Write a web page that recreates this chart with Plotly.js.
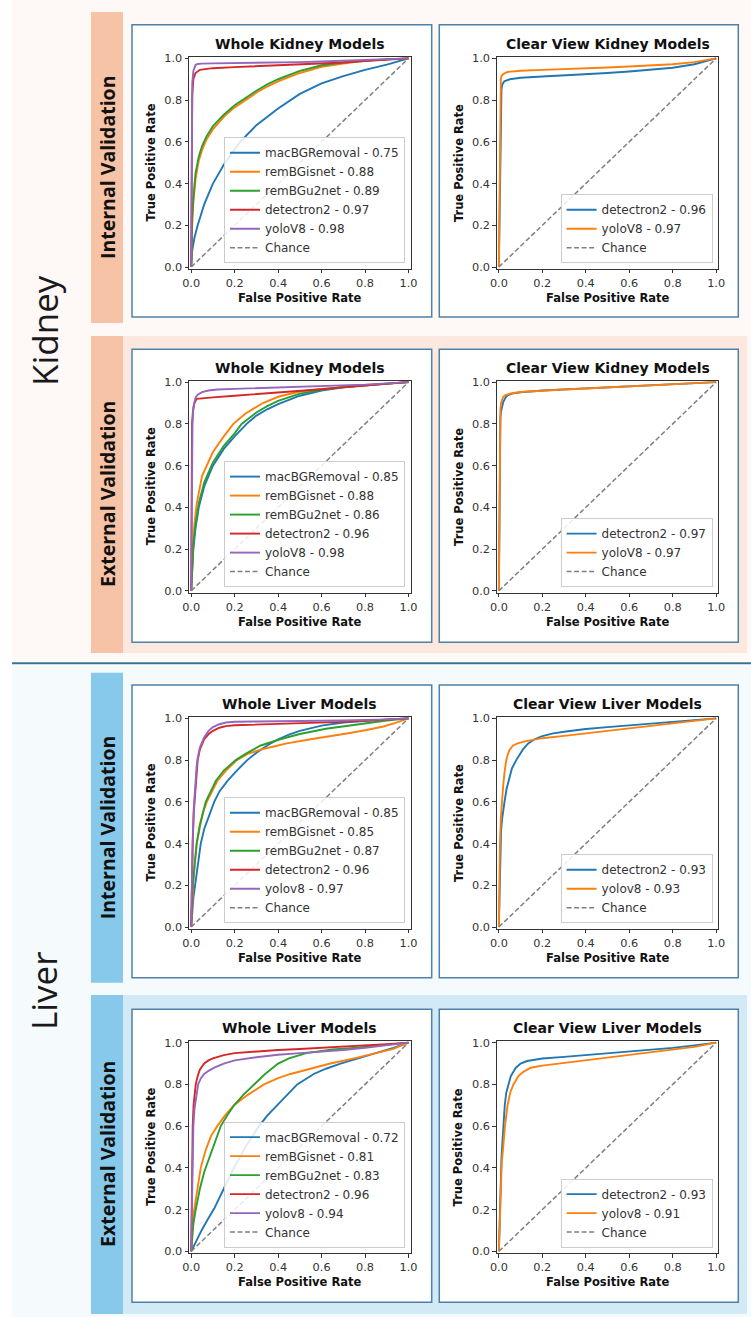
<!DOCTYPE html>
<html><head><meta charset="utf-8">
<script src="https://cdn.plot.ly/plotly-3.0.1.min.js"></script>
<style>html,body{margin:0;padding:0;background:#fff}#chart{width:751px;height:1317px}</style>
</head><body><div id="chart"></div>
<script>
// ---------- tick labels / text ----------
const TICKS = [0, 0.2, 0.4, 0.6, 0.8, 1.0];
const TICK_TEXT = ['0.0', '0.2', '0.4', '0.6', '0.8', '1.0'];
const SECTION_LABELS = ['Kidney', 'Liver'];
const ROW_LABELS = ['Internal Validation', 'External Validation', 'Internal Validation', 'External Validation'];
const PANEL_TITLES = ['Whole Kidney Models', 'Clear View Kidney Models', 'Whole Kidney Models', 'Clear View Kidney Models',
  'Whole Liver Models', 'Clear View Liver Models', 'Whole Liver Models', 'Clear View Liver Models'];
const X_LABEL = 'False Positive Rate';
const Y_LABEL = 'True Positive Rate';

const WK_INT_LABELS = ['macBGRemoval - 0.75', 'remBGisnet - 0.88', 'remBGu2net - 0.89', 'detectron2 - 0.97', 'yoloV8 - 0.98'];
const CK_INT_LABELS = ['detectron2 - 0.96', 'yoloV8 - 0.97'];
const WK_EXT_LABELS = ['macBGRemoval - 0.85', 'remBGisnet - 0.88', 'remBGu2net - 0.86', 'detectron2 - 0.96', 'yoloV8 - 0.98'];
const CK_EXT_LABELS = ['detectron2 - 0.97', 'yoloV8 - 0.97'];
const WL_INT_LABELS = ['macBGRemoval - 0.85', 'remBGisnet - 0.85', 'remBGu2net - 0.87', 'detectron2 - 0.96', 'yolov8 - 0.97'];
const CL_INT_LABELS = ['detectron2 - 0.93', 'yolov8 - 0.93'];
const WL_EXT_LABELS = ['macBGRemoval - 0.72', 'remBGisnet - 0.81', 'remBGu2net - 0.83', 'detectron2 - 0.96', 'yolov8 - 0.94'];
const CL_EXT_LABELS = ['detectron2 - 0.93', 'yolov8 - 0.91'];
const CHANCE_LABEL = 'Chance';

// ---------- data (FPR / TPR) ----------
const CHANCE_X = [0, 1];
const CHANCE_Y = [0, 1];

// Whole Kidney - Internal
const WK_INT_MAC_FPR = [0, 0.005, 0.015, 0.03, 0.06, 0.1, 0.15, 0.225, 0.3, 0.4, 0.5, 0.6, 0.7, 0.8, 0.9, 1.0];
const WK_INT_MAC_TPR = [0, 0.08, 0.14, 0.2, 0.3, 0.4, 0.49, 0.6, 0.68, 0.76, 0.83, 0.88, 0.915, 0.945, 0.97, 1.0];
const WK_INT_ISN_FPR = [0, 0.002, 0.005, 0.01, 0.02, 0.035, 0.05, 0.07, 0.1, 0.15, 0.2, 0.25, 0.3, 0.35, 0.4, 0.5, 0.6, 0.7, 0.8, 0.9, 1.0];
const WK_INT_ISN_TPR = [0, 0.12, 0.22, 0.31, 0.42, 0.51, 0.56, 0.61, 0.66, 0.72, 0.765, 0.8, 0.835, 0.865, 0.89, 0.93, 0.96, 0.975, 0.988, 0.995, 1.0];
const WK_INT_U2N_FPR = [0, 0.002, 0.005, 0.01, 0.02, 0.035, 0.05, 0.07, 0.1, 0.15, 0.2, 0.25, 0.3, 0.35, 0.4, 0.5, 0.6, 0.7, 0.8, 0.9, 1.0];
const WK_INT_U2N_TPR = [0, 0.14, 0.24, 0.33, 0.45, 0.53, 0.58, 0.625, 0.675, 0.73, 0.775, 0.81, 0.845, 0.875, 0.9, 0.94, 0.967, 0.98, 0.99, 0.995, 1.0];
const WK_INT_DET_FPR = [0, 0.002, 0.005, 0.01, 0.02, 0.04, 0.07, 0.1, 0.2, 0.3, 0.4, 0.5, 0.6, 0.7, 0.8, 0.9, 1.0];
const WK_INT_DET_TPR = [0, 0.5, 0.82, 0.9, 0.93, 0.945, 0.95, 0.953, 0.958, 0.962, 0.966, 0.97, 0.975, 0.98, 0.987, 0.993, 1.0];
const WK_INT_YOL_FPR = [0, 0.002, 0.005, 0.01, 0.015, 0.02, 0.03, 0.05, 0.1, 0.2, 0.3, 0.4, 0.5, 0.6, 0.7, 0.8, 0.9, 1.0];
const WK_INT_YOL_TPR = [0, 0.6, 0.88, 0.94, 0.96, 0.968, 0.973, 0.975, 0.976, 0.977, 0.978, 0.98, 0.982, 0.985, 0.988, 0.991, 0.995, 1.0];

// Clear View Kidney - Internal
const CK_INT_DET_FPR = [0, 0.004, 0.008, 0.012, 0.016, 0.025, 0.05, 0.1, 0.2, 0.3, 0.4, 0.5, 0.6, 0.7, 0.8, 0.9, 1.0];
const CK_INT_DET_TPR = [0, 0.35, 0.72, 0.85, 0.875, 0.89, 0.9, 0.907, 0.913, 0.918, 0.924, 0.93, 0.937, 0.945, 0.955, 0.972, 1.0];
const CK_INT_YOL_FPR = [0, 0.003, 0.006, 0.009, 0.012, 0.02, 0.04, 0.1, 0.2, 0.3, 0.4, 0.5, 0.6, 0.7, 0.8, 0.9, 1.0];
const CK_INT_YOL_TPR = [0, 0.35, 0.75, 0.9, 0.915, 0.925, 0.935, 0.941, 0.945, 0.948, 0.952, 0.956, 0.961, 0.966, 0.972, 0.982, 1.0];

// Whole Kidney - External
const WK_EXT_MAC_FPR = [0, 0.005, 0.01, 0.02, 0.035, 0.06, 0.1, 0.15, 0.2, 0.255, 0.3, 0.35, 0.4, 0.5, 0.6, 0.7, 0.8, 0.9, 1.0];
const WK_EXT_MAC_TPR = [0, 0.12, 0.2, 0.3, 0.4, 0.5, 0.6, 0.68, 0.74, 0.8, 0.84, 0.87, 0.895, 0.935, 0.96, 0.975, 0.985, 0.993, 1.0];
const WK_EXT_ISN_FPR = [0, 0.003, 0.008, 0.015, 0.026, 0.05, 0.08, 0.1, 0.15, 0.194, 0.25, 0.33, 0.4, 0.5, 0.6, 0.7, 0.8, 0.9, 1.0];
const WK_EXT_ISN_TPR = [0, 0.14, 0.22, 0.32, 0.42, 0.55, 0.62, 0.665, 0.74, 0.8, 0.85, 0.9, 0.93, 0.955, 0.968, 0.978, 0.986, 0.993, 1.0];
const WK_EXT_U2N_FPR = [0, 0.005, 0.01, 0.02, 0.035, 0.06, 0.1, 0.15, 0.2, 0.232, 0.3, 0.35, 0.4, 0.5, 0.6, 0.7, 0.8, 0.9, 1.0];
const WK_EXT_U2N_TPR = [0, 0.14, 0.22, 0.32, 0.42, 0.52, 0.615, 0.695, 0.755, 0.8, 0.855, 0.885, 0.91, 0.945, 0.963, 0.977, 0.986, 0.993, 1.0];
const WK_EXT_DET_FPR = [0, 0.002, 0.004, 0.008, 0.015, 0.025, 0.05, 0.1, 0.2, 0.3, 0.4, 0.5, 0.6, 0.7, 0.8, 0.9, 1.0];
const WK_EXT_DET_TPR = [0, 0.5, 0.8, 0.86, 0.9, 0.92, 0.923, 0.927, 0.935, 0.942, 0.95, 0.958, 0.966, 0.975, 0.983, 0.991, 1.0];
const WK_EXT_YOL_FPR = [0, 0.003, 0.006, 0.01, 0.015, 0.02, 0.03, 0.05, 0.08, 0.12, 0.2, 0.3, 0.4, 0.5, 0.6, 0.7, 0.8, 0.9, 1.0];
const WK_EXT_YOL_TPR = [0, 0.5, 0.8, 0.88, 0.91, 0.925, 0.94, 0.952, 0.96, 0.965, 0.968, 0.971, 0.974, 0.977, 0.98, 0.984, 0.988, 0.994, 1.0];

// Clear View Kidney - External
const CK_EXT_DET_FPR = [0, 0.002, 0.004, 0.007, 0.01, 0.015, 0.02, 0.03, 0.04, 0.06, 0.1, 0.2, 0.3, 0.4, 0.5, 0.6, 0.7, 0.8, 0.9, 1.0];
const CK_EXT_DET_TPR = [0, 0.4, 0.75, 0.83, 0.86, 0.89, 0.905, 0.925, 0.937, 0.945, 0.952, 0.96, 0.965, 0.97, 0.975, 0.98, 0.985, 0.99, 0.995, 1.0];
const CK_EXT_YOL_FPR = [0, 0.002, 0.004, 0.007, 0.01, 0.015, 0.02, 0.03, 0.04, 0.06, 0.1, 0.2, 0.3, 0.4, 0.5, 0.6, 0.7, 0.8, 0.9, 1.0];
const CK_EXT_YOL_TPR = [0, 0.45, 0.8, 0.87, 0.9, 0.92, 0.93, 0.938, 0.942, 0.947, 0.953, 0.96, 0.965, 0.97, 0.975, 0.98, 0.985, 0.99, 0.995, 1.0];

// Whole Liver - Internal
const WL_INT_MAC_FPR = [0, 0.005, 0.01, 0.018, 0.03, 0.044, 0.06, 0.08, 0.106, 0.13, 0.167, 0.21, 0.258, 0.3, 0.35, 0.4, 0.45, 0.5, 0.6, 0.7, 0.8, 0.9, 1.0];
const WL_INT_MAC_TPR = [0, 0.08, 0.14, 0.2, 0.3, 0.4, 0.47, 0.53, 0.6, 0.65, 0.7, 0.75, 0.8, 0.835, 0.87, 0.9, 0.922, 0.94, 0.965, 0.98, 0.988, 0.995, 1.0];
const WL_INT_ISN_FPR = [0, 0.003, 0.006, 0.01, 0.018, 0.026, 0.04, 0.055, 0.072, 0.095, 0.12, 0.16, 0.21, 0.26, 0.32, 0.38, 0.44, 0.55, 0.65, 0.73, 0.8, 0.88, 0.94, 1.0];
const WL_INT_ISN_TPR = [0, 0.1, 0.17, 0.22, 0.32, 0.4, 0.48, 0.55, 0.6, 0.65, 0.7, 0.75, 0.8, 0.83, 0.85, 0.865, 0.88, 0.9, 0.915, 0.93, 0.943, 0.96, 0.978, 1.0];
const WL_INT_U2N_FPR = [0, 0.003, 0.006, 0.01, 0.018, 0.025, 0.04, 0.055, 0.067, 0.09, 0.113, 0.15, 0.205, 0.25, 0.32, 0.41, 0.5, 0.62, 0.72, 0.82, 0.9, 1.0];
const WL_INT_U2N_TPR = [0, 0.11, 0.18, 0.23, 0.33, 0.4, 0.49, 0.56, 0.6, 0.65, 0.7, 0.75, 0.8, 0.83, 0.87, 0.9, 0.925, 0.95, 0.965, 0.98, 0.99, 1.0];
const WL_INT_DET_FPR = [0, 0.003, 0.007, 0.012, 0.018, 0.025, 0.03, 0.04, 0.06, 0.08, 0.1, 0.13, 0.16, 0.2, 0.3, 0.4, 0.5, 0.6, 0.7, 0.8, 0.9, 1.0];
const WL_INT_DET_TPR = [0, 0.25, 0.4, 0.55, 0.65, 0.75, 0.8, 0.85, 0.9, 0.925, 0.94, 0.955, 0.963, 0.967, 0.97, 0.972, 0.975, 0.978, 0.983, 0.988, 0.994, 1.0];
const WL_INT_YOL_FPR = [0, 0.003, 0.007, 0.012, 0.018, 0.025, 0.03, 0.04, 0.06, 0.08, 0.1, 0.13, 0.16, 0.2, 0.3, 0.5, 0.7, 0.9, 1.0];
const WL_INT_YOL_TPR = [0, 0.25, 0.42, 0.57, 0.67, 0.77, 0.81, 0.86, 0.91, 0.94, 0.958, 0.972, 0.98, 0.984, 0.985, 0.987, 0.99, 0.995, 1.0];

// Clear View Liver - Internal
const CL_INT_DET_FPR = [0, 0.003, 0.006, 0.01, 0.015, 0.02, 0.026, 0.035, 0.044, 0.06, 0.08, 0.11, 0.135, 0.164, 0.2, 0.25, 0.3, 0.4, 0.5, 0.6, 0.7, 0.8, 0.9, 1.0];
const CL_INT_DET_TPR = [0, 0.2, 0.35, 0.46, 0.52, 0.57, 0.6, 0.66, 0.7, 0.76, 0.8, 0.85, 0.88, 0.9, 0.915, 0.928, 0.936, 0.949, 0.958, 0.966, 0.974, 0.982, 0.991, 1.0];
const CL_INT_YOL_FPR = [0, 0.002, 0.005, 0.009, 0.014, 0.02, 0.027, 0.034, 0.042, 0.05, 0.065, 0.087, 0.12, 0.15, 0.2, 0.3, 0.4, 0.5, 0.6, 0.7, 0.8, 0.9, 1.0];
const CL_INT_YOL_TPR = [0, 0.2, 0.4, 0.52, 0.6, 0.68, 0.75, 0.8, 0.83, 0.85, 0.87, 0.88, 0.89, 0.897, 0.905, 0.916, 0.928, 0.941, 0.955, 0.965, 0.976, 0.988, 1.0];

// Whole Liver - External
const WL_EXT_MAC_FPR = [0, 0.02, 0.05, 0.08, 0.106, 0.15, 0.197, 0.25, 0.312, 0.35, 0.396, 0.44, 0.488, 0.564, 0.62, 0.687, 0.77, 0.855, 0.93, 1.0];
const WL_EXT_MAC_TPR = [0, 0.045, 0.105, 0.16, 0.205, 0.3, 0.4, 0.5, 0.6, 0.65, 0.7, 0.75, 0.8, 0.85, 0.875, 0.9, 0.925, 0.95, 0.975, 1.0];
const WL_EXT_ISN_FPR = [0, 0.003, 0.007, 0.014, 0.028, 0.044, 0.065, 0.09, 0.12, 0.155, 0.197, 0.26, 0.335, 0.4, 0.457, 0.55, 0.64, 0.75, 0.855, 0.93, 1.0];
const WL_EXT_ISN_TPR = [0, 0.08, 0.14, 0.2, 0.3, 0.4, 0.48, 0.55, 0.6, 0.65, 0.7, 0.75, 0.8, 0.83, 0.85, 0.875, 0.9, 0.925, 0.95, 0.97, 1.0];
const WL_EXT_U2N_FPR = [0, 0.005, 0.01, 0.021, 0.04, 0.06, 0.08, 0.1, 0.136, 0.165, 0.197, 0.24, 0.29, 0.34, 0.4, 0.45, 0.53, 0.6, 0.65, 0.75, 0.85, 0.93, 1.0];
const WL_EXT_U2N_TPR = [0, 0.08, 0.13, 0.2, 0.3, 0.38, 0.44, 0.5, 0.6, 0.65, 0.7, 0.75, 0.8, 0.85, 0.9, 0.925, 0.95, 0.96, 0.967, 0.975, 0.985, 0.993, 1.0];
const WL_EXT_DET_FPR = [0, 0.002, 0.004, 0.007, 0.011, 0.016, 0.021, 0.03, 0.04, 0.06, 0.08, 0.1, 0.15, 0.2, 0.3, 0.4, 0.5, 0.6, 0.7, 0.8, 0.9, 1.0];
const WL_EXT_DET_TPR = [0, 0.3, 0.5, 0.6, 0.7, 0.76, 0.8, 0.84, 0.87, 0.9, 0.915, 0.925, 0.94, 0.95, 0.958, 0.965, 0.97, 0.975, 0.98, 0.986, 0.993, 1.0];
const WL_EXT_YOL_FPR = [0, 0.003, 0.006, 0.01, 0.015, 0.022, 0.032, 0.045, 0.06, 0.08, 0.106, 0.15, 0.2, 0.3, 0.4, 0.5, 0.6, 0.7, 0.8, 0.9, 1.0];
const WL_EXT_YOL_TPR = [0, 0.25, 0.45, 0.6, 0.68, 0.74, 0.8, 0.83, 0.85, 0.865, 0.88, 0.9, 0.915, 0.93, 0.942, 0.95, 0.957, 0.965, 0.975, 0.987, 1.0];

// Clear View Liver - External
const CL_EXT_DET_FPR = [0, 0.004, 0.008, 0.012, 0.015, 0.02, 0.027, 0.034, 0.043, 0.055, 0.078, 0.1, 0.13, 0.2, 0.3, 0.4, 0.5, 0.6, 0.7, 0.8, 0.9, 1.0];
const CL_EXT_DET_TPR = [0, 0.2, 0.35, 0.45, 0.5, 0.6, 0.7, 0.76, 0.8, 0.84, 0.88, 0.9, 0.912, 0.924, 0.932, 0.94, 0.948, 0.956, 0.965, 0.975, 0.987, 1.0];
const CL_EXT_YOL_FPR = [0, 0.004, 0.008, 0.013, 0.02, 0.028, 0.04, 0.052, 0.067, 0.09, 0.113, 0.147, 0.2, 0.3, 0.4, 0.5, 0.6, 0.7, 0.8, 0.9, 1.0];
const CL_EXT_YOL_TPR = [0, 0.15, 0.3, 0.42, 0.5, 0.6, 0.7, 0.76, 0.8, 0.84, 0.86, 0.88, 0.89, 0.903, 0.915, 0.927, 0.94, 0.952, 0.965, 0.98, 1.0];

// ---------- styling ----------
const COL = {blue: '#1f77b4', orange: '#ff7f0e', green: '#2ca02c', red: '#d62728', purple: '#9467bd', chance: '#808080'};
const W = 751, H = 1317;
const fx = v => v / W;
const fy = v => 1 - v / H;
const PLOT_X = [[189, 410.7], [496.7, 718.3]];
const PLOT_Y = [[56.7, 268.7], [380.5, 592.5], [716.7, 928.7], [1041, 1253]];
const BOX_X = [[132, 431.7], [439.3, 738.3]];
const BOX_Y = [[24.7, 317], [349.3, 642.3], [685, 977.7], [1009.3, 1302.3]];
const BAR_Y = [[12, 323], [336, 653], [672.7, 982.7], [995, 1314]];
const MPL_FONT = 'DejaVu Sans, Liberation Sans, sans-serif';
const INK = '#333333';

function whole(labels, a) {
  return [
    {name: labels[0], x: a[0], y: a[1], color: COL.blue},
    {name: labels[1], x: a[2], y: a[3], color: COL.orange},
    {name: labels[2], x: a[4], y: a[5], color: COL.green},
    {name: labels[3], x: a[6], y: a[7], color: COL.red},
    {name: labels[4], x: a[8], y: a[9], color: COL.purple}
  ];
}
function clear(labels, a) {
  return [
    {name: labels[0], x: a[0], y: a[1], color: COL.blue},
    {name: labels[1], x: a[2], y: a[3], color: COL.orange}
  ];
}
const PANELS = [
  whole(WK_INT_LABELS, [WK_INT_MAC_FPR, WK_INT_MAC_TPR, WK_INT_ISN_FPR, WK_INT_ISN_TPR, WK_INT_U2N_FPR, WK_INT_U2N_TPR, WK_INT_DET_FPR, WK_INT_DET_TPR, WK_INT_YOL_FPR, WK_INT_YOL_TPR]),
  clear(CK_INT_LABELS, [CK_INT_DET_FPR, CK_INT_DET_TPR, CK_INT_YOL_FPR, CK_INT_YOL_TPR]),
  whole(WK_EXT_LABELS, [WK_EXT_MAC_FPR, WK_EXT_MAC_TPR, WK_EXT_ISN_FPR, WK_EXT_ISN_TPR, WK_EXT_U2N_FPR, WK_EXT_U2N_TPR, WK_EXT_DET_FPR, WK_EXT_DET_TPR, WK_EXT_YOL_FPR, WK_EXT_YOL_TPR]),
  clear(CK_EXT_LABELS, [CK_EXT_DET_FPR, CK_EXT_DET_TPR, CK_EXT_YOL_FPR, CK_EXT_YOL_TPR]),
  whole(WL_INT_LABELS, [WL_INT_MAC_FPR, WL_INT_MAC_TPR, WL_INT_ISN_FPR, WL_INT_ISN_TPR, WL_INT_U2N_FPR, WL_INT_U2N_TPR, WL_INT_DET_FPR, WL_INT_DET_TPR, WL_INT_YOL_FPR, WL_INT_YOL_TPR]),
  clear(CL_INT_LABELS, [CL_INT_DET_FPR, CL_INT_DET_TPR, CL_INT_YOL_FPR, CL_INT_YOL_TPR]),
  whole(WL_EXT_LABELS, [WL_EXT_MAC_FPR, WL_EXT_MAC_TPR, WL_EXT_ISN_FPR, WL_EXT_ISN_TPR, WL_EXT_U2N_FPR, WL_EXT_U2N_TPR, WL_EXT_DET_FPR, WL_EXT_DET_TPR, WL_EXT_YOL_FPR, WL_EXT_YOL_TPR]),
  clear(CL_EXT_LABELS, [CL_EXT_DET_FPR, CL_EXT_DET_TPR, CL_EXT_YOL_FPR, CL_EXT_YOL_TPR])
];

const traces = [];
const layout = {
  width: W, height: H, margin: {l: 0, r: 0, t: 0, b: 0},
  paper_bgcolor: '#ffffff', plot_bgcolor: 'rgba(0,0,0,0)',
  showlegend: true, hovermode: false,
  font: {family: MPL_FONT, color: INK},
  shapes: [], annotations: []
};

function rect(x0, y0, x1, y1, fill, line) {
  layout.shapes.push({type: 'rect', xref: 'paper', yref: 'paper', layer: 'below',
    x0: fx(x0), x1: fx(x1), y0: fy(y1), y1: fy(y0), fillcolor: fill,
    line: line || {width: 0}});
}
// section backgrounds
rect(12, 0, 751, 661.5, '#fef8f6');
rect(12, 665, 751, 1317, '#f5fafd');
layout.shapes.push({type: 'line', xref: 'paper', yref: 'paper', layer: 'below',
  x0: fx(12), x1: fx(751), y0: fy(663.3), y1: fy(663.3), line: {color: '#3d7191', width: 2}});
// bands
rect(123, BAR_Y[1][0], 747, BAR_Y[1][1], '#fce8de');
rect(123, BAR_Y[3][0], 747, BAR_Y[3][1], '#d2eaf6');
// side bars
for (let r = 0; r < 4; r++) {
  rect(91, BAR_Y[r][0], 123, BAR_Y[r][1], r < 2 ? '#f6c3a6' : '#86c9ea');
  layout.annotations.push({xref: 'paper', yref: 'paper', x: fx(107.5), y: fy((BAR_Y[r][0] + BAR_Y[r][1]) / 2),
    text: '<b>' + ROW_LABELS[r] + '</b>', showarrow: false, textangle: -90,
    xanchor: 'center', yanchor: 'middle', font: {family: 'Open Sans, Liberation Sans, sans-serif', size: 19.5, color: '#111'}});
}
// section labels
layout.annotations.push({xref: 'paper', yref: 'paper', x: fx(44), y: fy(331), text: SECTION_LABELS[0], showarrow: false,
  textangle: -90, xanchor: 'center', yanchor: 'middle', font: {family: 'Open Sans, Noto Sans, sans-serif', size: 35, color: '#1a1a1a'}});
layout.annotations.push({xref: 'paper', yref: 'paper', x: fx(44), y: fy(991), text: SECTION_LABELS[1], showarrow: false,
  textangle: -90, xanchor: 'center', yanchor: 'middle', font: {family: 'Open Sans, Noto Sans, sans-serif', size: 35, color: '#1a1a1a'}});

PANELS.forEach((series, i) => {
  const row = Math.floor(i / 2), col = i % 2;
  const s = i === 0 ? '' : String(i + 1);
  const lg = i === 0 ? 'legend' : 'legend' + (i + 1);
  const [px0, px1] = PLOT_X[col];
  const [py0, py1] = PLOT_Y[row];
  // panel box
  rect(BOX_X[col][0], BOX_Y[row][0], BOX_X[col][1], BOX_Y[row][1], '#ffffff', {color: '#4f81a8', width: 1.5});

  const axisCommon = {
    tickvals: TICKS, ticktext: TICK_TEXT, ticks: 'outside', ticklen: 3.5, tickwidth: 1, tickcolor: INK,
    showline: true, linecolor: INK, linewidth: 1, mirror: true, showgrid: false, zeroline: false,
    tickfont: {family: MPL_FONT, size: 11.3, color: INK}, fixedrange: true
  };
  layout['xaxis' + s] = Object.assign({}, axisCommon, {domain: [fx(px0), fx(px1)], range: [-0.01, 1.01], anchor: 'y' + s});
  layout['yaxis' + s] = Object.assign({}, axisCommon, {domain: [fy(py1), fy(py0)], range: [-0.008, 1.008], anchor: 'x' + s});

  layout[lg] = {
    x: fx(px1 - 5.7), y: fy(py1 - 5.4), xanchor: 'right', yanchor: 'bottom',
    bgcolor: 'rgba(255,255,255,0.85)', bordercolor: '#cccccc', borderwidth: 1,
    font: {family: MPL_FONT, size: 12, color: INK}, itemwidth: 30, traceorder: 'normal', tracegroupgap: 0
  };

  series.forEach(sr => traces.push({
    type: 'scatter', mode: 'lines', x: sr.x, y: sr.y, name: sr.name,
    line: {color: sr.color, width: 1.9}, xaxis: 'x' + s, yaxis: 'y' + s, legend: lg, hoverinfo: 'skip'
  }));
  traces.push({type: 'scatter', mode: 'lines', x: CHANCE_X, y: CHANCE_Y, name: CHANCE_LABEL,
    line: {color: COL.chance, width: 1.5, dash: '5px,2.5px'}, xaxis: 'x' + s, yaxis: 'y' + s, legend: lg, hoverinfo: 'skip'});

  const cx = fx((px0 + px1) / 2);
  layout.annotations.push({xref: 'paper', yref: 'paper', x: cx, y: fy(py0 - 12.7), text: '<b>' + PANEL_TITLES[i] + '</b>',
    showarrow: false, xanchor: 'center', yanchor: 'middle', font: {family: MPL_FONT, size: 14, color: '#111'}});
  layout.annotations.push({xref: 'paper', yref: 'paper', x: cx, y: fy(py1 + 29), text: '<b>' + X_LABEL + '</b>',
    showarrow: false, xanchor: 'center', yanchor: 'middle', font: {family: MPL_FONT, size: 11.5, color: '#111'}});
  layout.annotations.push({xref: 'paper', yref: 'paper', x: fx(px0 - 38.3), y: fy((py0 + py1) / 2), text: '<b>' + Y_LABEL + '</b>',
    showarrow: false, textangle: -90, xanchor: 'center', yanchor: 'middle', font: {family: MPL_FONT, size: 11.5, color: '#111'}});
});

Plotly.newPlot('chart', traces, layout, {staticPlot: true, displayModeBar: false});
</script></body></html>
